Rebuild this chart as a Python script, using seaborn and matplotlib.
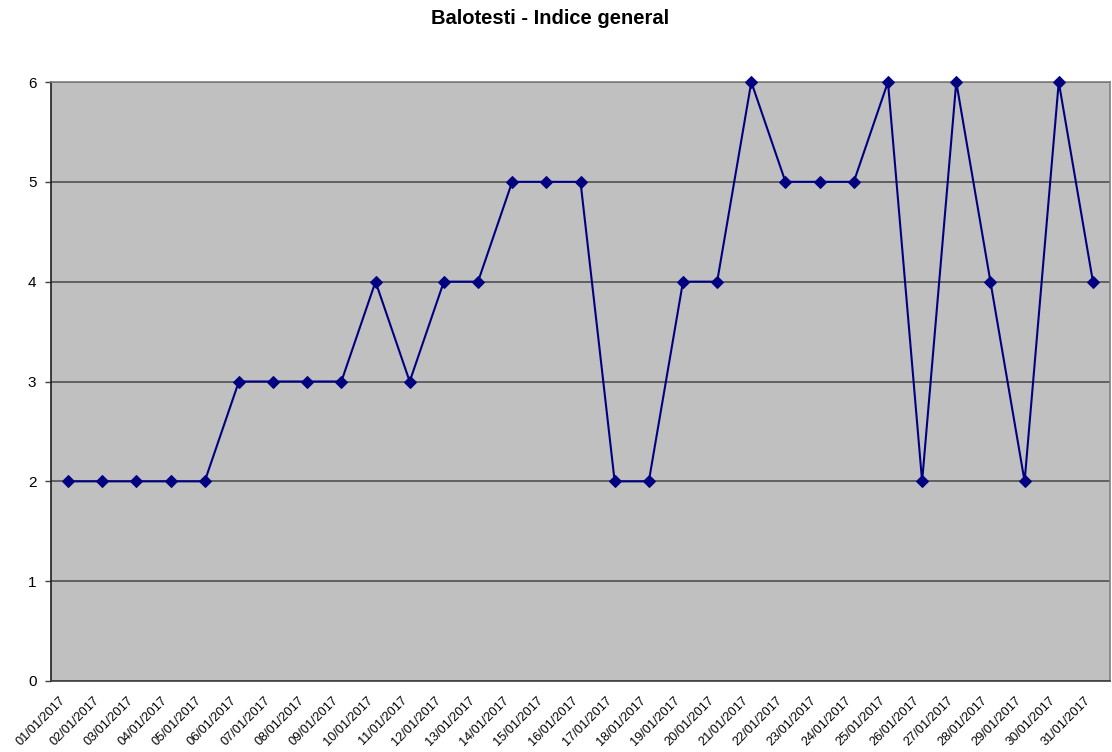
import matplotlib
matplotlib.use("Agg")
import matplotlib.pyplot as plt
import matplotlib.transforms as mtransforms
import seaborn as sns
import pandas as pd
import numpy as np

dates = [f"{d:02d}/01/2017" for d in range(1, 32)]
values = [2, 2, 2, 2, 2, 3, 3, 3, 3, 4, 3, 4, 4, 5, 5, 5, 2, 2, 4, 4,
          6, 5, 5, 5, 6, 2, 6, 4, 2, 6, 4]
y_ticks = [0, 1, 2, 3, 4, 5, 6]
title = "Balotesti - Indice general"

sns.set_style("white")
plt.rcParams["font.family"] = ["Liberation Sans", "DejaVu Sans"]
plt.rcParams["text.color"] = "black"
plt.rcParams["xtick.color"] = "black"
plt.rcParams["ytick.color"] = "black"
plt.rcParams["xtick.labelcolor"] = "black"
plt.rcParams["ytick.labelcolor"] = "black"

df = pd.DataFrame({"day": np.arange(len(dates)), "value": values})

fig = plt.figure(figsize=(11.12, 7.52), dpi=100)
ax = fig.add_axes([51 / 1112, 71 / 752, (1110 - 51) / 1112, (681 - 82) / 752])
ax.set_facecolor("#C0C0C0")

sns.lineplot(data=df, x="day", y="value", ax=ax, color="#000080",
             linewidth=1.5, marker="D", markersize=6.5,
             markeredgecolor="#000080", markerfacecolor="#000080",
             zorder=3, clip_on=False)

ax.set_xlim(-0.5, len(dates) - 0.5)
ax.set_ylim(0, 6)
ax.set_yticks(y_ticks)
ax.set_yticklabels([str(v) for v in y_ticks], fontsize=11)

# Category labels centred on each day, tick marks on the boundaries
ax.set_xticks(np.arange(len(dates)))
ax.set_xticklabels(dates, rotation=45, ha="right", rotation_mode="anchor",
                   fontsize=9.2)
ax.tick_params(axis="x", which="major", length=0, pad=6)
shift = mtransforms.ScaledTranslation(-0.09, -0.05, fig.dpi_scale_trans)
for lbl in ax.get_xticklabels():
    lbl.set_transform(lbl.get_transform() + shift)
ax.set_xticks(np.arange(len(dates) + 1) - 0.5, minor=True)
ax.tick_params(axis="x", which="minor", length=4, width=1, color="#404040",
               direction="out")
ax.tick_params(axis="y", length=4, width=1, color="#404040", direction="out",
               left=True, pad=6.5)

ax.grid(axis="y", color="#585858", linewidth=1.3, zorder=1)
ax.set_axisbelow(True)

for side, col in [("left", "#202020"), ("bottom", "#404040"),
                  ("top", "#808080"), ("right", "#808080")]:
    ax.spines[side].set_visible(True)
    ax.spines[side].set_color(col)
    ax.spines[side].set_linewidth(1.2)

ax.set_xlabel("")
ax.set_ylabel("")
fig.text(550 / 1112, 1 - 19 / 752, title, ha="center", va="center",
         fontsize=14.5, fontweight="bold")

fig.savefig("out.png", dpi=100)
